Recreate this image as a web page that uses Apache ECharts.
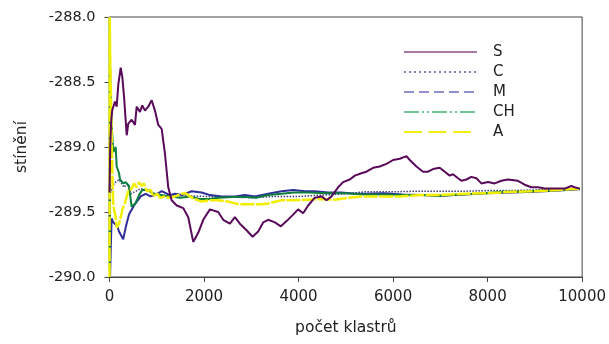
<!DOCTYPE html>
<html>
<head>
<meta charset="utf-8">
<script src="https://cdn.jsdelivr.net/npm/echarts@6/dist/echarts.min.js"></script>
<style>html,body{margin:0;padding:0;background:#fff}#c{width:609px;height:344px}</style>
</head>
<body>
<div id="c"></div>
<script>
const seriesNames = ['S', 'C', 'M', 'CH', 'A'];
const xTicks = [0, 2000, 4000, 6000, 8000, 10000];
const yTicks = [-290.0, -289.5, -289.0, -288.5, -288.0];

const dataS = [[1,-289.35],[15,-289.0],[35,-288.8],[59,-288.715],[116,-288.65],[152,-288.69],[186,-288.52],[237,-288.39],[271,-288.46],[307,-288.61],[364,-288.91],[397,-288.82],[469,-288.79],[539,-288.83],[575,-288.69],[645,-288.73],[693,-288.68],[750,-288.72],[820,-288.69],[892,-288.64],[962,-288.72],[1032,-288.83],[1104,-288.86],[1173,-289.05],[1243,-289.31],[1315,-289.41],[1421,-289.45],[1560,-289.47],[1666,-289.54],[1772,-289.73],[1877,-289.66],[1983,-289.56],[2125,-289.48],[2300,-289.50],[2406,-289.56],[2547,-289.59],[2653,-289.54],[2759,-289.59],[2900,-289.64],[3027,-289.69],[3146,-289.65],[3251,-289.58],[3357,-289.56],[3499,-289.58],[3625,-289.61],[3746,-289.57],[3886,-289.52],[3991,-289.48],[4097,-289.51],[4203,-289.45],[4344,-289.39],[4486,-289.38],[4592,-289.41],[4697,-289.38],[4837,-289.31],[4943,-289.27],[5084,-289.25],[5190,-289.22],[5344,-289.20],[5437,-289.19],[5577,-289.16],[5718,-289.15],[5860,-289.13],[6000,-289.10],[6141,-289.09],[6283,-289.07],[6353,-289.10],[6494,-289.15],[6634,-289.19],[6740,-289.19],[6845,-289.17],[6987,-289.16],[7093,-289.19],[7198,-289.22],[7268,-289.21],[7374,-289.24],[7446,-289.26],[7551,-289.25],[7657,-289.23],[7763,-289.24],[7868,-289.28],[8008,-289.27],[8150,-289.28],[8291,-289.26],[8431,-289.25],[8642,-289.26],[8784,-289.29],[8925,-289.31],[9065,-289.31],[9207,-289.32],[9348,-289.32],[9488,-289.32],[9629,-289.32],[9771,-289.30],[9841,-289.31],[9947,-289.32]];

const dataC = [[1,-289.75],[8,-289.2],[30,-289.35],[95,-289.28],[201,-289.25],[307,-289.31],[376,-289.28],[448,-289.36],[560,-289.34],[660,-289.32],[800,-289.33],[1000,-289.37],[1500,-289.375],[2000,-289.38],[2500,-289.385],[3000,-289.39],[3500,-289.38],[4000,-289.38],[4500,-289.37],[5000,-289.36],[5400,-289.345],[6000,-289.345],[6500,-289.34],[7000,-289.34],[7500,-289.34],[8000,-289.335],[8500,-289.335],[9000,-289.33],[9500,-289.325],[9950,-289.32]];

const dataM = [[1,-289.3],[12,-290.0],[25,-289.8],[45,-289.55],[80,-289.58],[165,-289.61],[201,-289.65],[290,-289.71],[307,-289.68],[342,-289.62],[412,-289.52],[448,-289.51],[518,-289.45],[660,-289.38],[765,-289.36],[871,-289.38],[1010,-289.36],[1104,-289.34],[1279,-289.37],[1385,-289.36],[1526,-289.37],[1738,-289.34],[1949,-289.35],[2125,-289.37],[2372,-289.38],[2653,-289.38],[2865,-289.37],[3076,-289.38],[3357,-289.36],[3640,-289.34],[3886,-289.33],[4133,-289.34],[4344,-289.34],[4625,-289.35],[4909,-289.35],[5190,-289.36],[5401,-289.36],[5800,-289.355],[6200,-289.365],[6600,-289.37],[7000,-289.375],[7500,-289.365],[8000,-289.355],[8500,-289.35],[9000,-289.345],[9500,-289.335],[9950,-289.325]];

const dataCH = [[1,-288.0],[4,-289.95],[8,-288.3],[20,-288.55],[40,-288.8],[80,-289.04],[131,-289.0],[152,-289.15],[201,-289.20],[222,-289.25],[292,-289.28],[342,-289.27],[412,-289.30],[469,-289.46],[554,-289.43],[624,-289.37],[693,-289.33],[799,-289.33],[941,-289.36],[1082,-289.37],[1280,-289.38],[1500,-289.39],[1700,-289.38],[1900,-289.40],[2100,-289.40],[2300,-289.39],[2600,-289.385],[2900,-289.385],[3100,-289.39],[3357,-289.37],[3640,-289.36],[3900,-289.35],[4200,-289.35],[4600,-289.355],[5000,-289.355],[5400,-289.365],[5800,-289.365],[6200,-289.37],[6600,-289.37],[7000,-289.375],[7400,-289.365],[7800,-289.36],[8300,-289.345],[8700,-289.345],[9200,-289.335],[9600,-289.33],[9950,-289.32]];

const dataA = [[1,-290.0],[4,-288.0],[15,-288.3],[30,-288.6],[45,-288.9],[60,-289.2],[80,-289.45],[131,-289.54],[152,-289.62],[201,-289.59],[258,-289.51],[271,-289.48],[328,-289.43],[342,-289.41],[397,-289.34],[412,-289.33],[469,-289.32],[518,-289.28],[575,-289.31],[624,-289.27],[681,-289.30],[729,-289.28],[786,-289.34],[871,-289.33],[926,-289.38],[1010,-289.36],[1068,-289.39],[1170,-289.38],[1240,-289.39],[1385,-289.38],[1526,-289.36],[1600,-289.355],[1666,-289.37],[1772,-289.395],[1949,-289.42],[2125,-289.41],[2300,-289.41],[2512,-289.42],[2724,-289.44],[2935,-289.44],[3218,-289.44],[3357,-289.435],[3640,-289.41],[3900,-289.41],[4200,-289.405],[4486,-289.40],[4767,-289.405],[5050,-289.39],[5401,-289.38],[5800,-289.38],[6140,-289.38],[6600,-289.37],[7000,-289.37],[7540,-289.36],[8000,-289.355],[8500,-289.345],[9000,-289.34],[9500,-289.33],[9950,-289.32]];

const FONT = 'DejaVu Sans';
const chart = echarts.init(document.getElementById('c'), null, {renderer: 'canvas'});

const plotStyles = {
  S:  {color: '#5a0a5a', width: 2, type: 'solid'},
  C:  {color: '#3a3a78', width: 1.5, type: [1.5, 1.5]},
  M:  {color: '#2e2e98', width: 2, type: 'solid'},
  CH: {color: '#0e7e3e', width: 2, type: 'solid'},
  A:  {color: '#f2ee00', width: 2.5, type: [14, 1.5]}
};
const legendStyles = {
  S:  {color: '#a878a8', width: 2, type: 'solid'},
  C:  {color: '#8484b0', width: 2, type: [2, 3]},
  M:  {color: '#9090d0', width: 2, type: [10, 5]},
  CH: {color: '#70c496', width: 2, type: [15, 3, 2, 3, 2, 3]},
  A:  {color: '#f2ee10', width: 2, type: [18, 6.5]}
};
const seriesData = {S: dataS, C: dataC, M: dataM, CH: dataCH, A: dataA};

chart.setOption({
  animation: false,
  backgroundColor: '#fff',
  grid: {left: 109.5, right: 26.5, top: 17, bottom: 67, show: true, borderColor: '#444', borderWidth: 1, backgroundColor: 'transparent'},
  legend: {
    orient: 'vertical',
    left: 398,
    top: 39.5,
    itemWidth: 73,
    itemHeight: 14,
    itemGap: 5,
    textStyle: {fontFamily: FONT, fontSize: 15, color: '#222', lineHeight: 14, padding: [0, 0, 0, 11]},
    data: seriesNames.map(n => ({name: n, lineStyle: legendStyles[n],
      itemStyle: {color: 'rgba(0,0,0,0)', borderColor: 'rgba(0,0,0,0)', borderWidth: 0}}))
  },
  xAxis: {
    type: 'value', min: 0, max: 10000, interval: 2000,
    name: 'počet klastrů', nameLocation: 'middle', nameGap: 43,
    nameTextStyle: {fontFamily: FONT, fontSize: 15.5, color: '#222'},
    axisLine: {show: true, onZero: false, lineStyle: {color: '#444', width: 1}},
    axisTick: {show: true, inside: false, length: 5, lineStyle: {color: '#444'}},
    axisLabel: {fontFamily: FONT, fontSize: 15, color: '#222', margin: 13,
      formatter: v => xTicks.indexOf(v) >= 0 ? String(v) : ''},
    splitLine: {show: false}
  },
  yAxis: {
    type: 'value', min: -290, max: -288, interval: 0.5,
    name: 'stínění', nameLocation: 'middle', nameGap: 80, nameRotate: 90,
    nameTextStyle: {fontFamily: FONT, fontSize: 15.5, color: '#222'},
    axisLine: {show: true, onZero: false, lineStyle: {color: '#444', width: 1}},
    axisTick: {show: true, inside: false, length: 5, lineStyle: {color: '#444'}},
    axisLabel: {fontFamily: FONT, fontSize: 14.5, color: '#222', margin: 14,
      formatter: v => yTicks.indexOf(v) >= 0 ? v.toFixed(1) : ''},
    splitLine: {show: false}
  },
  series: ['C', 'M', 'CH', 'A', 'S'].map(n => ({
    name: n, type: 'line', data: seriesData[n], symbol: 'none', showSymbol: false,
    lineStyle: plotStyles[n], itemStyle: {color: plotStyles[n].color}, clip: true, z: n === 'S' ? 3 : 2
  }))
});
</script>
</body>
</html>
